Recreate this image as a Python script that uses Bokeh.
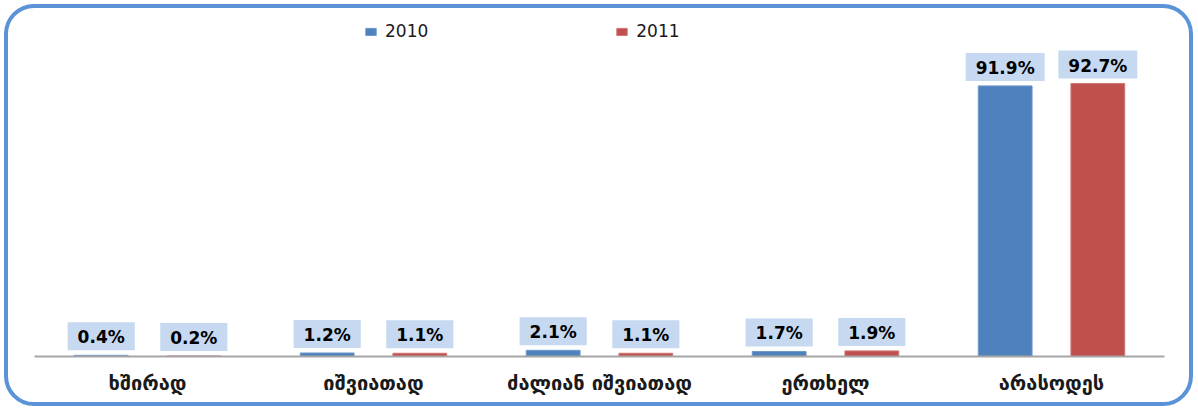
from bokeh.plotting import figure
from bokeh.models import ColumnDataSource, FactorRange, Legend, LegendItem
from bokeh.transform import dodge
from bokeh.core.properties import value
from bokeh.embed import file_html
from bokeh.resources import INLINE

categories = ["ხშირად", "იშვიათად", "ძალიან იშვიათად", "ერთხელ", "არასოდეს"]
values_2010 = [0.4, 1.2, 2.1, 1.7, 91.9]
values_2011 = [0.2, 1.1, 1.1, 1.9, 92.7]
series_names = ["2010", "2011"]

BLUE = "#4f81bd"
RED = "#c0504d"

W, H = 1197, 410

src = ColumnDataSource(dict(
    cat=categories,
    v10=values_2010,
    v11=values_2011,
    l10=[f"{v:.1f}%" for v in values_2010],
    l11=[f"{v:.1f}%" for v in values_2011],
))

p = figure(
    x_range=FactorRange(*categories, range_padding=0),
    y_range=(0, 120.9),
    width=W, height=H,
    output_backend="svg", toolbar_location=None,
    y_axis_location=None,
    min_border_left=34, min_border_right=33, min_border_top=0, min_border_bottom=54,
)
p.styles = {"outline": "4px solid #5b93d8", "outline-offset": "-8px",
            "border-radius": "34px", "background": "white"}
p.outline_line_color = None
p.xgrid.grid_line_color = None
p.ygrid.grid_line_color = None
p.background_fill_color = None
p.border_fill_color = None

r1 = p.vbar(x=dodge("cat", -0.205, range=p.x_range), top="v10", width=0.238, source=src,
            fill_color=BLUE, line_color="#6f97c9", line_width=1)
r2 = p.vbar(x=dodge("cat", 0.205, range=p.x_range), top="v11", width=0.238, source=src,
            fill_color=RED, line_color="#d07573", line_width=1)

for off, col, lab in [(-0.205, "v10", "l10"), (0.205, "v11", "l11")]:
    p.text(x=dodge("cat", off, range=p.x_range), y=col, text=lab, source=src,
           y_offset=-5, text_align="center", text_baseline="bottom",
           text_font=value("DejaVu Sans"), text_font_style="bold", text_font_size="17px",
           text_color="black",
           background_fill_color="#c6d9f1", padding=[10, 10, 5, 3])

ax = p.xaxis[0]
ax.axis_line_color = "#a6a6a6"
ax.axis_line_width = 2
ax.major_tick_line_color = None
ax.minor_tick_line_color = None
ax.major_label_standoff = 8
ax.major_label_text_font = "DejaVu Sans"
ax.major_label_text_font_style = "bold"
ax.major_label_text_font_size = "20px"
ax.major_label_text_color = "#1a1a1a"

legend = Legend(items=[LegendItem(label=series_names[0], renderers=[r1]),
                       LegendItem(label=series_names[1], renderers=[r2])],
                orientation="horizontal", location=(330, 315),
                glyph_width=13, glyph_height=9, label_standoff=8, spacing=187,
                padding=0, margin=0, border_line_color=None, background_fill_alpha=0,
                label_text_font="DejaVu Sans", label_text_font_size="17px",
                label_text_color="#1a1a1a")
p.add_layout(legend)

open("out.html", "w").write(file_html(p, INLINE))
